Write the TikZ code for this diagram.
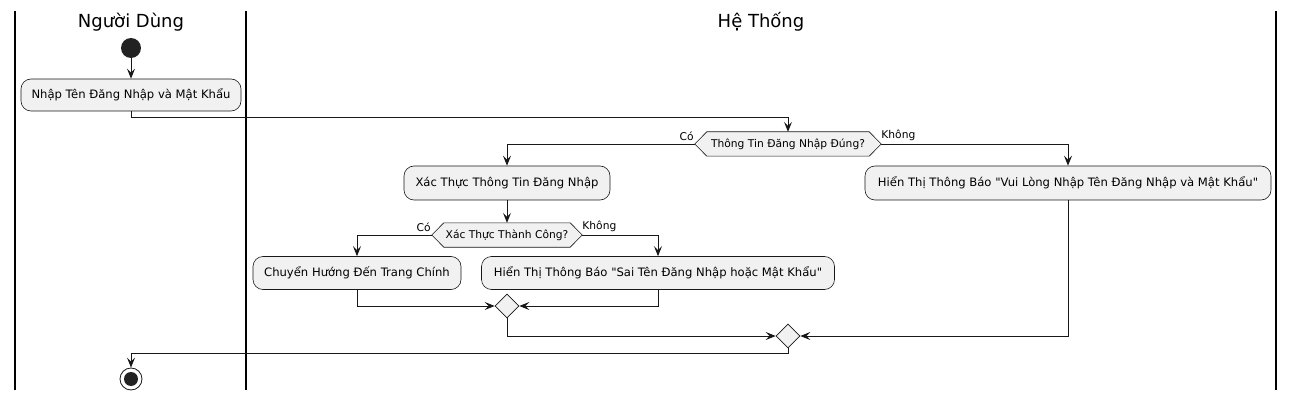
\documentclass[tikz,border=0pt]{standalone}
\usepackage{fontspec}
\setmainfont{DejaVu Sans}[Ligatures=TeXOff]
\usetikzlibrary{shapes.geometric,arrows.meta,calc}
\pgfdeclarelayer{bg}
\pgfsetlayers{bg,main}
\definecolor{linec}{HTML}{181818}
\definecolor{boxfill}{HTML}{F1F1F1}
\definecolor{startc}{HTML}{222222}
\begin{document}
\begin{tikzpicture}[x=1pt,y=-1pt,
  act/.style={draw=linec, fill=boxfill, rounded corners=10pt, line width=0.6pt,
    font=\fontsize{11.6}{14}\selectfont, inner sep=0pt, align=center},
  dtext/.style={font=\fontsize{10.7}{13}\selectfont, inner sep=0pt, minimum height=24pt},
  hexa/.style={draw=linec, fill=boxfill, line width=0.6pt},
  merge/.style={diamond, draw=linec, fill=boxfill, line width=0.6pt, inner sep=0pt,
    minimum width=24pt, minimum height=24pt},
  arr/.style={draw=linec, line width=0.9pt, -{Stealth[length=10pt,width=8pt,inset=4pt]}},
  lbl/.style={font=\fontsize{10.7}{13}\selectfont, inner sep=0pt},
  lane/.style={draw=black, line width=1.4pt},
  title/.style={font=\fontsize{18}{21}\selectfont, inner sep=0pt}
]
\useasboundingbox (0,0) rectangle (1294,401);
\begin{pgfonlayer}{bg}
\fill[white] (0,0) rectangle (1294,401);
\end{pgfonlayer}

% swimlanes
\draw[lane] (15,11) -- (15,390);
\draw[lane] (246,11) -- (246,390);
\draw[lane] (1276,11) -- (1276,390);
\node[title] (t1) at (131,22) {Người Dùng};
\node[title] (t2) at (761,22) {Hệ Thống};

% nodes
\node[circle, fill=startc, minimum size=20pt, inner sep=0pt] (start) at (131,48) {};
\node[act, minimum width=220pt, minimum height=32pt] (a1) at (131,95) {Nhập Tên Đăng Nhập và Mật Khẩu};

\node[dtext, minimum width=162pt] (d1) at (788,144) {Thông Tin Đăng Nhập Đúng?};
\coordinate (d1w) at ($(d1.west)+(-12,0)$);
\coordinate (d1e) at ($(d1.east)+(12,0)$);

\node[act, minimum width=206pt, minimum height=34pt] (a2) at (507,183) {Xác Thực Thông Tin Đăng Nhập};
\node[act, minimum width=406pt, minimum height=34pt] (a3) at (1068,183) {Hiển Thị Thông Báo "Vui Lòng Nhập Tên Đăng Nhập và Mật Khẩu"};

\node[dtext, minimum width=126pt] (d2) at (507,235) {Xác Thực Thành Công?};
\coordinate (d2w) at ($(d2.west)+(-12,0)$);
\coordinate (d2e) at ($(d2.east)+(12,0)$);

\node[act, minimum width=208pt, minimum height=33pt] (a4) at (357,273) {Chuyển Hướng Đến Trang Chính};
\node[act, minimum width=353pt, minimum height=33pt] (a5) at (658,273) {Hiển Thị Thông Báo "Sai Tên Đăng Nhập hoặc Mật Khẩu"};

\node[merge] (m1) at (507,306) {};
\node[merge] (m2) at (788,336) {};

\node[circle, draw=linec, fill=white, line width=0.8pt, minimum size=22pt, inner sep=0pt] (end) at (131,379) {};
\fill[startc] (end.center) circle (7pt);

% hexagons behind decision texts
\begin{pgfonlayer}{bg}
\draw[hexa] (d1.north west) -- (d1.north east) -- (d1e) -- (d1.south east) -- (d1.south west) -- (d1w) -- cycle;
\draw[hexa] (d2.north west) -- (d2.north east) -- (d2e) -- (d2.south east) -- (d2.south west) -- (d2w) -- cycle;
\end{pgfonlayer}

% labels
\node[lbl, anchor=south east] (l1) at ($(d1w)+(-1,-3)$) {Có};
\node[lbl, anchor=south west] (l2) at ($(d1e)+(0,-3)$) {Không};
\node[lbl, anchor=south east] (l3) at ($(d2w)+(-1,-3)$) {Có};
\node[lbl, anchor=south west] (l4) at ($(d2e)+(0,-3)$) {Không};

% connectors
\draw[arr] (start) -- (a1);
\draw[arr] (a1.south) -- ++(0,6) -| (d1.north);
\draw[arr] (d1w) -| (a2.north);
\draw[arr] (d1e) -| (a3.north);
\draw[arr] (a2) -- (d2.north);
\draw[arr] (d2w) -| (a4.north);
\draw[arr] (d2e) -| (a5.north);
\draw[arr] (a4.south) |- (m1.west);
\draw[arr] (a5.south) |- (m1.east);
\draw[arr] (m1.south) |- (m2.west);
\draw[arr] (a3.south) |- (m2.east);
\draw[arr] (m2.south) -- ++(0,5) -| (end.north);
\end{tikzpicture}
\end{document}
